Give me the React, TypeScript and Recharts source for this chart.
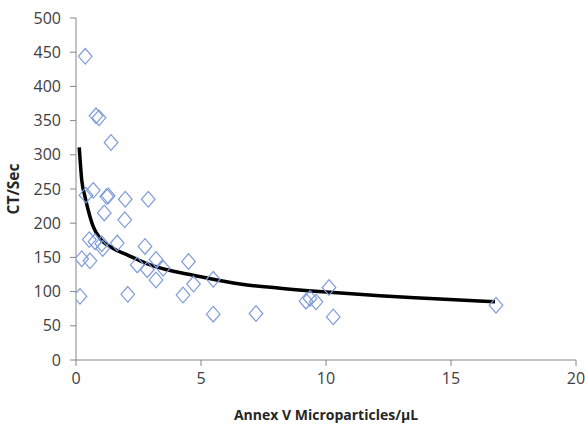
import React from 'react';
import { ComposedChart, XAxis, YAxis, Scatter, Line } from 'recharts';

// Scatter points (Annex V microparticles/µL vs CT/Sec)
const pointX = [0.37, 0.80, 0.92, 1.40, 0.69, 0.40, 1.23, 1.29, 1.97, 2.89, 1.13, 1.95, 0.53, 0.76, 1.03, 1.07, 1.65, 2.76, 0.23, 0.56, 2.45, 2.85, 3.20, 3.49, 3.20, 4.50, 4.70, 4.28, 5.49, 5.49, 0.16, 2.07, 7.20, 9.20, 9.36, 9.60, 10.12, 10.29, 16.80];
const pointY = [444, 357, 354, 318, 248, 241, 239, 240, 235, 235, 215, 205, 176, 173, 170, 163, 171, 166, 148, 145, 139, 132, 147, 134, 117, 144, 111, 95, 118, 67, 93, 96, 68, 86, 90, 85, 106, 63, 80];

// Trend curve
const curveX = [0.13, 0.23, 0.36, 0.49, 0.69, 0.96, 1.49, 2.03, 2.83, 3.63, 4.69, 6.56, 8.16, 10.16, 12.16, 14.16, 16.76];
const curveY = [311, 263, 239, 219, 195, 178, 163, 154, 141, 132, 124, 111, 105, 99, 94, 90, 85];

const xTicks = [0, 5, 10, 15, 20];
const yTicks = [0, 50, 100, 150, 200, 250, 300, 350, 400, 450, 500];

const points = pointX.map((x, i) => ({ x, y: pointY[i] }));
const curve = curveX.map((x, i) => ({ x, y: curveY[i] }));

const FONT = 'Open Sans, sans-serif';
const AXIS = '#868686';

const Diamond = (props: any) => {
  const { cx, cy } = props;
  if (cx == null || cy == null) return null;
  const w = 6.8;
  const h = 7.8;
  return (
    <path
      d={`M${cx},${cy - h}L${cx + w},${cy}L${cx},${cy + h}L${cx - w},${cy}Z`}
      fill="none"
      stroke="#7E9CDA"
      strokeWidth={1.2}
    />
  );
};

export default function App() {
  return (
    <div style={{ position: 'absolute', left: 0, top: 0, background: '#fff' }}>
      <ComposedChart width={585} height={429} margin={{ top: 18, right: 9, bottom: 0, left: 0 }}>
        <XAxis
          type="number"
          dataKey="x"
          domain={[0, 20]}
          ticks={xTicks}
          height={69}
          stroke={AXIS}
          tickSize={6}
          tickMargin={7}
          tick={{ fill: '#404040', fontSize: 16, fontFamily: FONT }}
          allowDataOverflow
          label={{
            value: 'Annex V Microparticles/µL',
            position: 'insideBottom',
            offset: 9,
            style: { fontFamily: FONT, fontSize: 14, fontWeight: 700, fill: '#262626' },
          }}
        />
        <YAxis
          type="number"
          dataKey="y"
          domain={[0, 500]}
          ticks={yTicks}
          width={76}
          stroke={AXIS}
          tickSize={6}
          tickMargin={9}
          tick={{ fill: '#404040', fontSize: 16, fontFamily: FONT }}
          allowDataOverflow
          label={{
            value: 'CT/Sec',
            angle: -90,
            position: 'insideLeft',
            offset: 13,
            style: { fontFamily: FONT, fontSize: 15.5, fontWeight: 700, fill: '#262626', textAnchor: 'middle' },
          }}
        />
        <Scatter data={points} dataKey="y" shape={<Diamond />} isAnimationActive={false} />
        <Line
          data={curve}
          dataKey="y"
          type="monotone"
          stroke="#000"
          strokeWidth={3.5}
          dot={false}
          activeDot={false}
          isAnimationActive={false}
        />
      </ComposedChart>
    </div>
  );
}
